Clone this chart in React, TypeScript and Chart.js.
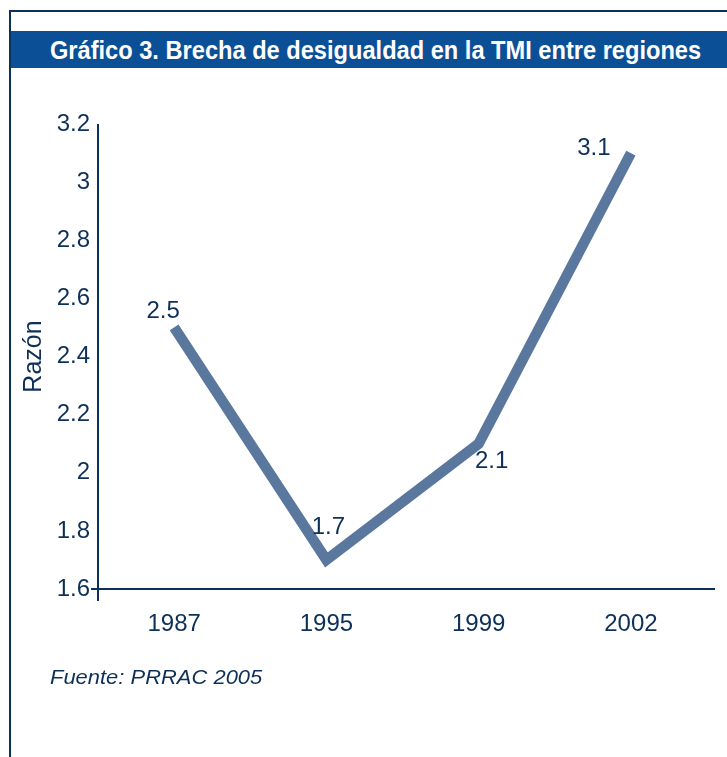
import { useEffect, useRef } from 'react';
import { Chart, registerables } from 'chart.js';

Chart.register(...registerables);

// ---- data ----
const years: string[] = ['1987', '1995', '1999', '2002'];
const ratio: number[] = [2.5, 1.7, 2.1, 3.1];
const yMin = 1.6;
const yMax = 3.2;
const yStep = 0.2;

const titleText = 'Gráfico 3. Brecha de desigualdad en la TMI entre regiones';
const sourceText = 'Fuente: PRRAC 2005';
const yAxisTitle = 'Razón';

// ---- styles ----
const NAVY = '#0d3059';
const BAR = '#0b5096';
const LINE = '#5a789e';
const FONT = '"Liberation Sans", Arial, sans-serif';
// label offsets relative to each point (dx, dy)
const labelOffsets: [number, number][] = [
  [-11, -16],
  [2, -33],
  [13, 18],
  [-37, -5],
];

const decorPlugin = {
  id: 'decor',
  afterDraw(chart: any) {
    const { ctx, chartArea, scales } = chart;
    const x0 = chartArea.left;
    const y0 = chartArea.bottom;
    ctx.save();
    ctx.strokeStyle = NAVY;
    ctx.lineWidth = 2;
    ctx.beginPath();
    // y axis line (extends below x axis)
    ctx.moveTo(x0, chartArea.top);
    ctx.lineTo(x0, y0 + 12);
    // x axis line (extends past last category)
    ctx.moveTo(x0, y0);
    ctx.lineTo(715, y0);
    // tick at the minimum
    const yp = scales.y.getPixelForValue(yMin);
    ctx.moveTo(x0 - 7, yp);
    ctx.lineTo(x0, yp);
    ctx.stroke();

    // data labels
    const meta = chart.getDatasetMeta(0);
    ctx.fillStyle = NAVY;
    ctx.font = `24px ${FONT}`;
    ctx.textAlign = 'center';
    ctx.textBaseline = 'middle';
    meta.data.forEach((pt: any, i: number) => {
      const [dx, dy] = labelOffsets[i];
      ctx.fillText(String(ratio[i]), pt.x + dx, pt.y + dy);
    });
    ctx.restore();
  },
};

function LineChart() {
  const ref = useRef<HTMLCanvasElement>(null);
  useEffect(() => {
    if (!ref.current) return;
    const chart = new Chart(ref.current, {
      type: 'line',
      data: {
        labels: years,
        datasets: [
          {
            data: ratio,
            borderColor: LINE,
            borderWidth: 10.5,
            borderCapStyle: 'butt',
            borderJoinStyle: 'miter',
            pointRadius: 0,
            tension: 0,
            fill: false,
            clip: false as any,
          },
        ],
      },
      options: {
        animation: false,
        responsive: false,
        events: [],
        layout: { padding: { left: 0, top: 124, right: 20, bottom: 0 } },
        plugins: {
          legend: { display: false },
          tooltip: { enabled: false },
          title: { display: false },
        },
        scales: {
          x: {
            type: 'category',
            offset: true,
            grid: { display: false, drawTicks: false },
            border: { display: false },
            ticks: {
              color: NAVY,
              font: { family: FONT, size: 24 },
              padding: 21,
              maxRotation: 0,
            },
            afterFit: (s: any) => {
              s.height = 757 - 589;
            },
          },
          y: {
            min: yMin,
            max: yMax,
            grid: { display: false, drawTicks: false },
            border: { display: false },
            ticks: {
              stepSize: yStep,
              color: NAVY,
              font: { family: FONT, size: 24 },
              padding: 8,
              callback: (v: any) => String(Math.round(Number(v) * 10) / 10),
            },
            title: {
              display: true,
              text: yAxisTitle,
              color: NAVY,
              font: { family: FONT, size: 25 },
              padding: { top: 19, bottom: 0 },
            },
            afterFit: (s: any) => {
              s.width = 98;
            },
          },
        },
      },
      plugins: [decorPlugin],
    });
    return () => chart.destroy();
  }, []);
  return (
    <canvas
      ref={ref}
      width={727}
      height={757}
      style={{ position: 'absolute', left: 0, top: 0, width: 727, height: 757 }}
    />
  );
}

export default function App() {
  return (
    <div
      style={{
        position: 'fixed',
        left: 0,
        top: 0,
        width: 727,
        height: 757,
        background: '#ffffff',
        overflow: 'hidden',
        fontFamily: FONT,
      }}
    >
      <div style={{ position: 'absolute', left: 9, top: 10, width: 718, height: 2, background: NAVY }} />
      <div style={{ position: 'absolute', left: 9, top: 10, width: 2, height: 747, background: NAVY }} />
      <div
        style={{
          position: 'absolute',
          left: 11,
          top: 31,
          width: 716,
          height: 37,
          background: BAR,
          color: '#ffffff',
          fontWeight: 'bold',
          fontSize: 25,
          lineHeight: '39px',
          textAlign: 'center',
          whiteSpace: 'nowrap',
        }}
      >
        <span style={{ display: 'inline-block', transform: 'scaleX(0.945)', marginLeft: 14 }}>{titleText}</span>
      </div>
      <LineChart />
      <div
        style={{
          position: 'absolute',
          left: 50,
          top: 664,
          color: NAVY,
          fontStyle: 'italic',
          fontSize: 21,
          lineHeight: '26px',
          whiteSpace: 'nowrap',
          transformOrigin: 'left center',
          transform: 'scaleX(1.045)',
        }}
      >
        {sourceText}
      </div>
    </div>
  );
}
